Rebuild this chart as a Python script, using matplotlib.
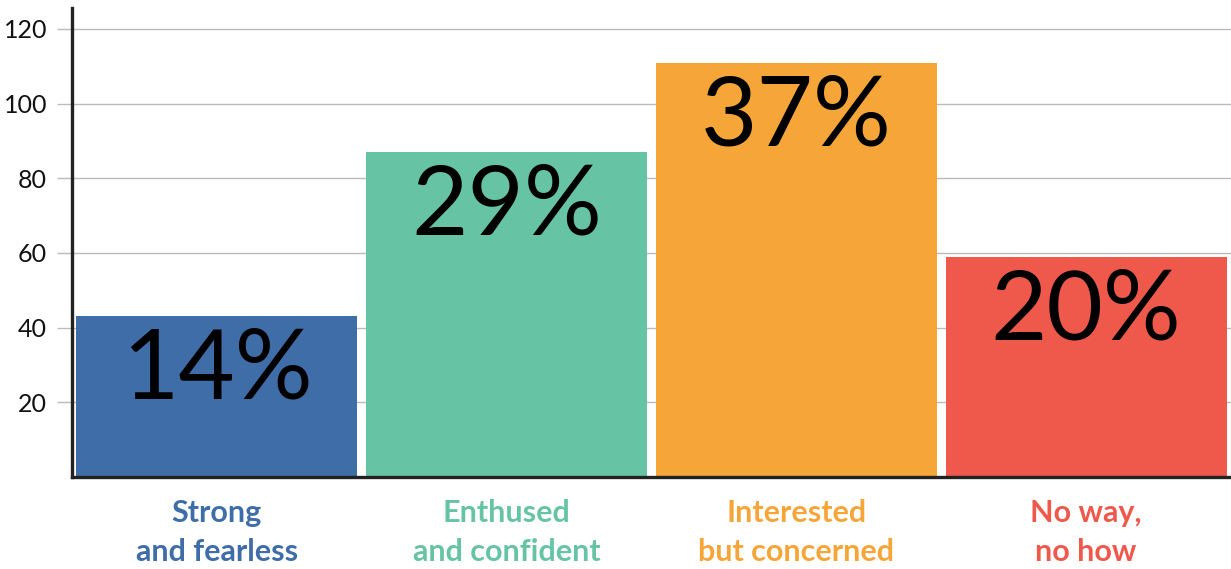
import matplotlib.pyplot as plt

# survey counts per cyclist type
categories = ["Strong\nand fearless", "Enthused\nand confident",
              "Interested\nbut concerned", "No way,\nno how"]
counts = [43, 87, 111, 59]
shares = ["14%", "29%", "37%", "20%"]
colors = ["#3E6DA8", "#66C4A4", "#F6A638", "#EE594B"]
yticks = [20, 40, 60, 80, 100, 120]

plt.rcParams['font.family'] = ['Lato', 'DejaVu Sans']

fig = plt.figure(figsize=(12.31, 5.69), dpi=100)
ax = fig.add_axes([72 / 1231, 1 - 477 / 569, 1 - 72 / 1231, 469 / 569])

x = range(len(categories))
ax.bar(x, counts, width=0.97, color=colors, zorder=2)

for xi, c, s in zip(x, counts, shares):
    ax.annotate(s, (xi, c), xytext=(0, -40), textcoords='offset points',
                ha='center', va='center', fontsize=70, color='black')

for xi, lab, col in zip(x, categories, colors):
    ax.text(xi, -0.118, lab, transform=ax.get_xaxis_transform(),
            ha='center', va='center', fontsize=22, fontweight='bold',
            color=col, linespacing=1.45)

ax.set_xlim(-0.5, 3.5)
ax.set_ylim(0, 125.6)
ax.set_yticks(yticks)
ax.set_xticks([])
ax.tick_params(axis='y', length=11, width=1, color='#BBBBBB', pad=7,
               labelsize=18, labelcolor='#111111')
ax.yaxis.grid(True, color='#BBBBBB', linewidth=1, zorder=0)
ax.set_axisbelow(True)

for side in ['top', 'right']:
    ax.spines[side].set_visible(False)
for side in ['left', 'bottom']:
    ax.spines[side].set_color('#222222')
    ax.spines[side].set_linewidth(2.4)
    ax.spines[side].set_zorder(3)

fig.savefig("out.png", dpi=100)
